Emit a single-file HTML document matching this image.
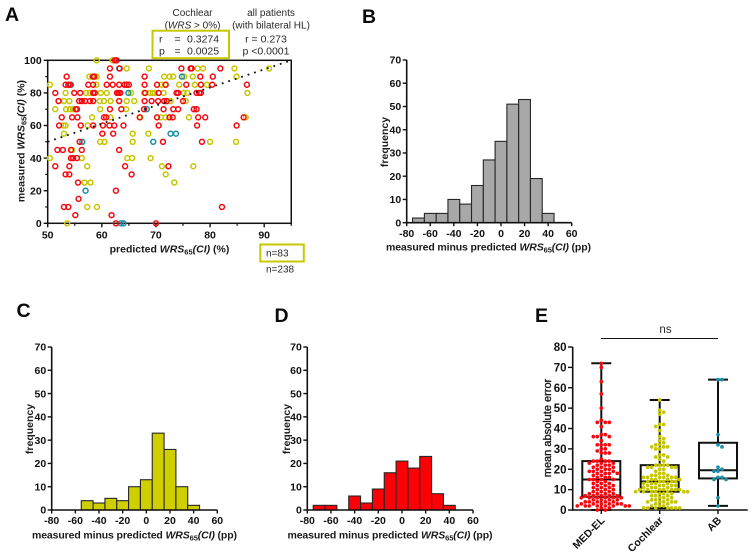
<!DOCTYPE html>
<html lang="en">
<head>
<meta charset="utf-8">
<title>Measured versus predicted WRS65(CI)</title>
<style>
html,body{margin:0;padding:0;background:#fff;width:754px;height:557px;overflow:hidden}
svg{display:block}
text{font-family:"Liberation Sans",sans-serif;fill:#1a1a1a}
.panel{font-size:19.5px;font-weight:bold;fill:#0a0a0a}
.tick{font-size:10.5px;font-weight:bold;fill:#111}
.etick{font-size:11.5px;font-weight:bold;fill:#111}
.title{font-size:10.5px;font-weight:bold;fill:#1a1a1a}
.note{font-size:10px;fill:#2a2a2a}
.sub{font-size:7.5px}
</style>
</head>
<body>
<svg id="figure" width="754" height="557" viewBox="0 0 754 557" xmlns="http://www.w3.org/2000/svg">
  <rect width="754" height="557" fill="#fff"/>

  <text class="panel" x="5" y="21">A</text>
  <text class="panel" x="362" y="23">B</text>
  <text class="panel" x="16.5" y="317">C</text>
  <text class="panel" x="274.5" y="322">D</text>
  <text class="panel" x="535" y="322">E</text>

  <g>
    <text class="note" x="192.5" y="16" text-anchor="middle">Cochlear</text>
    <text class="note" x="192.5" y="28.5" text-anchor="middle">(<tspan font-style="italic">WRS</tspan> &gt; 0%)</text>
    <rect x="152.5" y="30.7" width="76.5" height="27.5" fill="none" stroke="#c8c800" stroke-width="2"/>
    <text class="note" x="159" y="42.5" style="font-size:10.5px">r</text>
    <text class="note" x="174.5" y="42.5" style="font-size:10.5px">=</text>
    <text class="note" x="187" y="42.5" style="font-size:10.5px">0.3274</text>
    <text class="note" x="159" y="54.5" style="font-size:10.5px">p</text>
    <text class="note" x="174.5" y="54.5" style="font-size:10.5px">=</text>
    <text class="note" x="187" y="54.5" style="font-size:10.5px">0.0025</text>
  </g>
  <g>
    <text class="note" x="271" y="16" text-anchor="middle">all patients</text>
    <text class="note" x="271" y="28.5" text-anchor="middle">(with bilateral HL)</text>
    <text class="note" x="266" y="42.5" text-anchor="middle" style="font-size:10.5px">r = 0.273</text>
    <text class="note" x="266" y="54.5" text-anchor="middle" style="font-size:10.5px">p &lt;0.0001</text>
  </g>
  <rect x="260.3" y="244.5" width="43.5" height="17" fill="none" stroke="#c8c800" stroke-width="2"/>
  <text class="note" x="266" y="256.5">n=83</text>
  <text class="note" x="266" y="272.5">n=238</text>

  <text class="title" x="169.5" y="252.5" text-anchor="middle">predicted <tspan font-style="italic">WRS</tspan><tspan class="sub" dy="2">65</tspan><tspan font-style="italic" dy="-2">(CI)</tspan> (%)</text>
  <text class="title" transform="translate(24.5 141) rotate(-90)" text-anchor="middle">measured <tspan font-style="italic">WRS</tspan><tspan class="sub" dy="2">65</tspan><tspan font-style="italic" dy="-2">(CI)</tspan> (%)</text>

  <text class="title" x="488.5" y="250.5" text-anchor="middle" textLength="205">measured minus predicted <tspan font-style="italic">WRS</tspan><tspan class="sub" dy="2">65</tspan><tspan font-style="italic" dy="-2">(CI)</tspan> (pp)</text>
  <text class="title" transform="translate(388 142) rotate(-90)" text-anchor="middle">frequency</text>

  <text class="title" x="134.5" y="538.5" text-anchor="middle" textLength="205">measured minus predicted <tspan font-style="italic">WRS</tspan><tspan class="sub" dy="2">65</tspan><tspan font-style="italic" dy="-2">(CI)</tspan> (pp)</text>
  <text class="title" transform="translate(33 429) rotate(-90)" text-anchor="middle">frequency</text>

  <text class="title" x="390" y="538.5" text-anchor="middle" textLength="205">measured minus predicted <tspan font-style="italic">WRS</tspan><tspan class="sub" dy="2">65</tspan><tspan font-style="italic" dy="-2">(CI)</tspan> (pp)</text>
  <text class="title" transform="translate(290 429) rotate(-90)" text-anchor="middle">frequency</text>

  <text class="title" transform="translate(551 428) rotate(-90)" text-anchor="middle" style="font-size:11px;font-weight:normal;stroke:#111;stroke-width:.35px">mean absolute error</text>
  <text class="note" x="665.5" y="333" text-anchor="middle" style="font-size:11.5px">ns</text>
  <line x1="601" x2="718" y1="338.5" y2="338.5" stroke="#111" stroke-width="1"/>
</svg>

<script>
// ---------- Panel A data: [predicted, measured] ----------
const cochlearPoints = [
[59.05,100],[62,100],[64.6,95],[68.7,95],[77.7,95],[78.7,95],[84.5,95],[90.9,95],
[57.7,90],[58.2,90],[59.05,90],[71.5,90],[72.5,90],[73.2,90],[75.2,90],[76.8,90],[84.9,90],
[50.4,85],[59,85],[71,85],[71.7,85],[74.3,85],[77.2,85],[79.4,85],
[53.3,80],[57.1,80],[57.8,80],[59.8,80],[60.9,80],[65.4,80],[67.8,80],[68.9,80],[69.4,80],[69.8,80],[71.4,80],[75.1,80],[75.8,80],[86.9,80],
[53,75],[54,75],[59.6,75],[60.4,75],[61.6,75],[64.6,75],[66,75],[72.7,75],[75.5,75],
[51.4,70],[53.4,70],[54.1,70],[54.7,70],[59.7,70],[64.5,70],
[58.2,65],[61.6,65],[67.1,65],[70.9,65],[71.8,65],[76.1,65],[86.6,65],
[52.9,60],[53.3,60],[57.4,60],
[53,55],[65.7,55],[68.6,55],
[59.7,50],[60.5,50],[65.7,50],[80,50],[84.8,50],
[54.5,45],[50.4,40],[56.3,40],[64.7,40],[65.6,40],[69,40],
[57.3,35],[71.1,35],[76.9,35],[71.8,30],[56.8,25],[57.9,25],[73.4,25],
[57.3,10],[59.1,10],[53.6,0]
];
const abPoints = [
[63.2,95],[74.8,90],[54.3,85],[64.9,80],[68.3,70],[72.7,55],[73.7,55],[56.4,50],[69.5,50],[57,20],[63.5,0],[64,0]
];
const medelPoints = [
[62.4,100],[62.75,100],[61.5,95],[63.3,95],[74.7,95],[76.4,95],[76.6,95],[81.9,95],
[53.5,90],[58.4,90],[58.6,90],[61.5,90],[67.9,90],[78.2,90],[80.5,90],
[53.3,85],[53.8,85],[54.1,85],[57.5,85],[58.4,85],[60.9,85],[62,85],[63.2,85],[64.2,85],[64.6,85],[65,85],[67.9,85],[70.2,85],[71.8,85],[75.6,85],[78.3,85],[80.4,85],[86.8,85],
[51.4,80],[54.9,80],[56,80],[58.4,80],[58.7,80],[62.8,80],[63.1,80],[63.4,80],[68,80],[70.5,80],[73.8,80],[74.1,80],[77.5,80],[78,80],[78.3,80],
[52,75],[55.8,75],[56.3,75],[56.9,75],[57.8,75],[58.4,75],[63.2,75],[67.9,75],[69.2,75],[70.4,75],[71.5,75],[72,75],[75,75],
[55.2,70],[55.4,70],[61.5,70],[63.6,70],[67.8,70],[71.4,70],[73.2,70],[74.1,70],[77,70],[77.5,70],
[52.6,65],[54.5,65],[55.5,65],[60.4,65],[60.8,65],[67,65],[70.2,65],[72.5,65],[73.1,65],[77.8,65],[79.1,65],[86.2,65],
[52.1,60],[56.1,60],[58.4,60],[60.2,60],[61.4,60],[62.3,60],[64,60],[70.5,60],[77.6,60],[84.9,60],
[60.1,55],[62.1,55],
[55.9,50],[71.3,50],[78.5,50],
[51.8,45],[52.8,45],[54.3,45],[56.3,45],[63.2,45],
[54.3,40],[54.7,40],[55.4,40],
[51.4,35],[54,35],[64.3,35],[72.3,35],
[53.3,30],[54,30],[65.5,30],
[55.6,25],[62.6,20],[55.7,15],
[53,10],[53.8,10],[82.2,10],
[55.1,5],[61.8,5],[62.6,0],[70,0]
];
const regressionLine = [[50,50],[95,100]];
const scatterXTicks = [50,60,70,80,90];
const scatterXMinorTicks = [55,65,75,85,95];
const scatterYTicks = [0,20,40,60,80,100];
const scatterYMinorTicks = [10,30,50,70,90];

// ---------- Histogram data ----------
const histXTicks = [-80,-60,-40,-20,0,20,40,60];
const histYTicks = [0,10,20,30,40,50,60,70];
const binCenters = [-70,-60,-50,-40,-30,-20,-10,0,10,20,30,40];
const allCounts = [2,4,4,10,8,16,27,35,51,53,19,4];
const cochlearCounts = [0,0,4,3,5,4,10,13,33,26,10,2];
const medelCounts = [2,2,0,6,3,9,16,21,18,23,7,2];

// ---------- Panel E data ----------
const errorCategories = ["MED-EL","Cochlear","AB"];
const errorYTicks = [0,10,20,30,40,50,60,70,80];
const medelMin = 0, medelQ1 = 6.5, medelMedian = 15, medelQ3 = 24, medelMax = 72;
const cochlearMin = 1, cochlearQ1 = 9, cochlearMedian = 14, cochlearQ3 = 22, cochlearMax = 54;
const abMin = 2, abQ1 = 15.5, abMedian = 19.5, abQ3 = 33, abMax = 64;
const medelErrors = [72,70,63,57,50,44,43,43,43,41,37,37,36,36,36,34,32,32,32,32,30,30,29,28,28,28,25,24,24,24,24,23,23,23,22,22,22,21,21,21,20,20,20,19,19,19,19,18,18,18,18,17,17,16,16,16,15,15,15,15,14,14,13,13,13,12,12,12,11,11,11,10,10,10,9,9,9,8,8,8,8,7,7,7,7,7,6,6,6,6,6,6,5,5,5,5,4,4,4,4,4,3,3,3,3,3,3,2,2,2,2,2,2,2,2,1,1,0,0];
const cochlearErrors = [54,49,48,47,42,42,41,39,36,35,34,33,32,32,31,31,31,30,30,27,27,26,26,25,24,22,22,22,22,21,21,21,21,20,20,19,18,18,17,17,17,16,16,16,16,16,16,15,15,15,15,14,14,14,14,14,13,13,13,13,12,12,12,12,12,11,11,11,11,10,10,10,10,10,10,10,9,9,9,9,9,9,9,8,8,8,7,7,7,6,6,6,5,5,5,4,4,4,4,4,3,3,2,2,2,1,1,1,1,1,1,1];
const abErrors = [64,64,37,32,31,21,20,19,19,16,16,15,15,6,2];

// ---------- Helpers ----------
const svg = document.getElementById('figure');
const NS = 'http://www.w3.org/2000/svg';
const INK = '#111';
function mk(tag, props, parent) {
  const el = document.createElementNS(NS, tag);
  for (const k in props) el.setAttribute(k, props[k]);
  (parent || svg).appendChild(el);
  return el;
}
function linear(d0, d1, r0, r1) {
  return v => r0 + (v - d0) * (r1 - r0) / (d1 - d0);
}
function axisLine(x1, y1, x2, y2, w, parent) {
  const el = mk('line', {x1, y1, x2, y2, stroke: INK, 'stroke-width': w}, parent);
  
  
  return el;
}
function tickMark(x1, y1, x2, y2, w, parent) {
  const el = mk('line', {x1, y1, x2, y2, stroke: INK, 'stroke-width': w}, parent);
  
  
  return el;
}
function tickLabel(x, y, str, anchor, cls, parent) {
  const el = mk('text', {x, y, 'text-anchor': anchor, class: cls}, parent);
  
  
  el.textContent = str;
  return el;
}

// ---------- Panel A ----------
(function drawScatter() {
  const x = linear(50, 90, 47.7, 264.2);
  const y = linear(0, 100, 223.3, 60.3);
  const g = mk('g', {});
  
  

  const frame = mk('rect', {x: x(50), y: y(100), width: x(95) - x(50), height: y(0) - y(100), fill: 'none', stroke: INK, 'stroke-width': 1.5}, g);
  
  

  scatterXTicks.forEach(t => {
    tickMark(x(t), y(0), x(t), y(0) + 4, 1.4, g);
    tickLabel(x(t), 238.5, t, 'middle', 'tick', g);
  });
  scatterXMinorTicks.forEach(t => tickMark(x(t), y(0), x(t), y(0) + 2.5, 1.2, g));
  scatterYTicks.forEach(t => {
    tickMark(x(50) - 4, y(t), x(50), y(t), 1.4, g);
    tickLabel(x(50) - 6, y(t) + 3.7, t, 'end', 'tick', g);
  });
  scatterYMinorTicks.forEach(t => tickMark(x(50) - 2.5, y(t), x(50), y(t), 1.2, g));

  function rings(points, colour, name) {
    points.forEach(p => {
      const c = mk('circle', {cx: x(p[0]), cy: y(p[1]), r: 2.45, fill: 'none', stroke: colour, 'stroke-width': 1.5}, g);
      
      
    });
  }
  rings(cochlearPoints, '#c6c600', 'cochlear-point');
  rings(abPoints, '#1b8fa8', 'ab-point');
  rings(medelPoints, '#f5080f', 'medel-point');

  const reg = mk('line', {
    x1: x(regressionLine[0][0]), y1: y(regressionLine[0][1]),
    x2: x(regressionLine[1][0]), y2: y(regressionLine[1][1]),
    stroke: '#111', 'stroke-width': 1.8, 'stroke-dasharray': '1.8 5', 'stroke-linecap': 'butt'
  }, g);
  
  
})();

// ---------- Histograms ----------
function drawHistogram(name, counts, colour, x0, x1, yBottom, yTop, tickBaseline) {
  const x = linear(-80, 60, x0, x1);
  const y = linear(0, 70, yBottom, yTop);
  const g = mk('g', {});
  
  

  counts.forEach((c, i) => {
    if (!c) return;
    const b = binCenters[i];
    const r = mk('rect', {x: x(b - 5), y: y(c), width: x(b + 5) - x(b - 5), height: y(0) - y(c), fill: colour, stroke: '#262626', 'stroke-width': 1.1}, g);
    
    
  });
  axisLine(x0, yBottom, x1, yBottom, 1.6, g);
  axisLine(x0, yBottom + 0.8, x0, yTop, 1.6, g);
  histXTicks.forEach(t => {
    tickMark(x(t), yBottom, x(t), yBottom + 3.5, 1.4, g);
    tickLabel(x(t), tickBaseline, t, 'middle', 'tick', g);
  });
  histYTicks.forEach(t => {
    tickMark(x0 - 4, y(t), x0, y(t), 1.4, g);
    tickLabel(x0 - 5.5, y(t) + 3.7, t, 'end', 'tick', g);
  });
}
drawHistogram('histogram-all', allCounts, '#a8a8a8', 406.7, 571.7, 222.7, 60, 237);
drawHistogram('histogram-cochlear', cochlearCounts, '#cfcf00', 51.7, 217.3, 510, 347, 524);
drawHistogram('histogram-medel', medelCounts, '#fb0006', 307.3, 473, 510, 347, 524);

// ---------- Panel E ----------
(function drawBoxes() {
  const y = linear(0, 80, 510, 347);
  const centers = [601.3, 659.7, 718];
  const g = mk('g', {});
  
  

  axisLine(572.7, 510, 747.7, 510, 1.6, g);
  axisLine(572.7, 510.8, 572.7, 347, 1.6, g);
  errorYTicks.forEach(t => {
    tickMark(568, y(t), 572.7, y(t), 1.4, g);
    tickLabel(566.5, y(t) + 4.1, t, 'end', 'etick', g);
  });

  function swarm(values, cx, colour, name) {
    const placed = [];
    const step = 4, minDist = 3.6, r = 1.85;
    values.slice().sort((a, b) => b - a).forEach(v => {
      const py = y(v);
      let px = cx;
      for (let k = 0; k < 30; k++) {
        const off = k === 0 ? 0 : (k % 2 ? 1 : -1) * Math.ceil(k / 2) * step;
        const cand = cx + off;
        if (placed.every(q => Math.hypot(q[0] - cand, q[1] - py) >= minDist)) { px = cand; break; }
      }
      placed.push([px, py]);
      const c = mk('circle', {cx: px, cy: py, r, fill: colour}, g);
      
      
    });
  }

  function box(i, lo, q1, med, q3, hi, name) {
    const cx = centers[i], hw = 19, cap = 10;
    const b = mk('g', {}, g);
    
    
    const common = {stroke: INK, 'stroke-width': 2, fill: 'none'};
    mk('rect', Object.assign({x: cx - hw, y: y(q3), width: 2 * hw, height: y(q1) - y(q3)}, common), b);
    mk('line', Object.assign({x1: cx - hw, x2: cx + hw, y1: y(med), y2: y(med)}, common), b);
    mk('line', Object.assign({x1: cx, x2: cx, y1: y(q3), y2: y(hi)}, common), b);
    mk('line', Object.assign({x1: cx, x2: cx, y1: y(q1), y2: y(lo)}, common), b);
    mk('line', Object.assign({x1: cx - cap, x2: cx + cap, y1: y(hi), y2: y(hi)}, common), b);
    mk('line', Object.assign({x1: cx - cap, x2: cx + cap, y1: y(lo), y2: y(lo)}, common), b);
  }

  box(0, medelMin, medelQ1, medelMedian, medelQ3, medelMax, 'medel-box');
  box(1, cochlearMin, cochlearQ1, cochlearMedian, cochlearQ3, cochlearMax, 'cochlear-box');
  box(2, abMin, abQ1, abMedian, abQ3, abMax, 'ab-box');
  swarm(medelErrors, centers[0], '#f5080f', 'medel-error-point');
  swarm(cochlearErrors, centers[1], '#c6c600', 'cochlear-error-point');
  swarm(abErrors, centers[2], '#1b8fa8', 'ab-error-point');

  errorCategories.forEach((name, i) => {
    tickMark(centers[i], 510, centers[i], 514, 1.4, g);
    const ax = centers[i] + 4, ay = 521;
    const t = mk('text', {x: ax, y: ay, 'text-anchor': 'end', class: 'tick', transform: 'rotate(-45 ' + ax + ' ' + ay + ')'}, g);
    
    
    t.textContent = name;
  });
})();
</script>
</body>
</html>
